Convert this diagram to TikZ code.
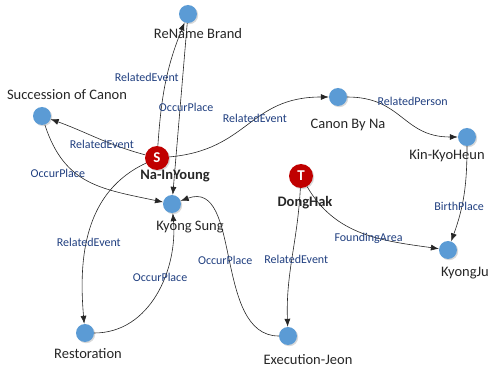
\documentclass[tikz,border=0pt]{standalone}
\usepackage{fontspec}
\setmainfont{Carlito}
\usetikzlibrary{arrows.meta, positioning, shadows}
\definecolor{nodeblue}{HTML}{5B9BD5}
\definecolor{nodered}{HTML}{C00000}
\definecolor{relblue}{HTML}{203F80}
\tikzset{
    base/.style = {
        circle, inner sep=0pt,
        drop shadow={opacity=0.3, shadow xshift=1.2pt, shadow yshift=-1.2pt}
    },
    % Resources
    place/.style = {base, fill=nodeblue, minimum size=18pt},
    agent/.style = {base, fill=nodered, minimum size=24pt, text=white, font=\fontsize{15}{15}\selectfont\bfseries},
    % Texts
    tag/.style      = {font=\fontsize{14.5}{16}\selectfont, text=black!85, inner sep=1pt},
    agenttag/.style = {tag, font=\fontsize{14.5}{16}\selectfont\bfseries},
    rel/.style      = {font=\fontsize{12}{13}\selectfont, text=relblue, inner sep=1pt},
    % Edges
    arrow/.style = {draw=black!85, line width=0.6pt, -{Latex[length=8pt, width=6pt]}}
}

\begin{document}
\begin{tikzpicture}[x=1pt, y=1pt]
    \path[use as bounding box] (0,0) rectangle (491,-369);

    % Persons (red)
    \node (nainyoung) [agent, label={[agenttag, xshift=18pt, yshift=1pt]below:Na-InYoung}] at (157,-158) {S};
    \node (donghak) [agent, label={[agenttag, xshift=4pt, yshift=-7pt]below:DongHak}] at (301,-176) {T};

    % Resources (blue)
    \node (rename) [place, label={[tag, xshift=10pt, yshift=-4pt]below:ReName Brand}] at (188,-14) {};
    \node (succession) [place, label={[tag, xshift=25pt, yshift=6pt]above:Succession of Canon}] at (42,-116) {};
    \node (canonbyna) [place, label={[tag, xshift=10pt, yshift=-12pt]below:Canon By Na}] at (338,-97) {};
    \node (kinkyoheun) [place, label={[tag, xshift=-20pt, yshift=-2pt]below:Kin-KyoHeun}] at (467,-137) {};
    \node (kyongsung) [place, label={[tag, xshift=18pt, yshift=-7pt]below:Kyong Sung}] at (172,-204) {};
    \node (kyongju) [place, label={[tag, xshift=17pt, yshift=-7pt]below:KyongJu}] at (448,-250) {};
    \node (restoration) [place, label={[tag, xshift=3pt, yshift=-5pt]below:Restoration}] at (85,-333) {};
    \node (execution) [place, label={[tag, xshift=20pt, yshift=-8pt]below:Execution-Jeon}] at (288,-336) {};

    % --- Connections ---

    % From Na-InYoung
    \draw [arrow] (nainyoung) to[out=86, in=-112] node[rel, pos=0.55, xshift=-20pt] {RelatedEvent} (rename);
    \draw [arrow] (nainyoung) to[out=165, in=-20] node[rel, pos=0.45, yshift=-4pt] {RelatedEvent} (succession);
    \draw [arrow] (nainyoung) to[out=5, in=180, looseness=1.2] node[rel, pos=0.55, yshift=2pt] {RelatedEvent} (canonbyna);
    \draw [arrow] (nainyoung) to[out=205, in=95] node[rel, pos=0.6, xshift=3pt, yshift=4pt] {RelatedEvent} (restoration);

    % Places
    \draw [arrow] (rename) -- node[rel, pos=0.49, xshift=6pt] {OccurPlace} (kyongsung);
    \draw [arrow] (succession) to[out=-72, in=168, looseness=1.15] node[rel, pos=0.25, xshift=-5pt, yshift=-13pt] {OccurPlace} (kyongsung);
    \draw [arrow] (restoration) to[out=0, in=-85] node[rel, pos=0.55, yshift=10pt] {OccurPlace} (kyongsung);
    \draw [arrow] (execution) to[out=180, in=20] node[rel, pos=0.5, xshift=-3pt] {OccurPlace} (kyongsung);

    % Canon By Na chain
    \draw [arrow] (canonbyna) to[out=0, in=180, looseness=1.2] node[rel, pos=0.35, xshift=23pt, yshift=7pt] {RelatedPerson} (kinkyoheun);
    \draw [arrow] (kinkyoheun) to[out=-90, in=70] node[rel, pos=0.55, xshift=-4pt, yshift=-7pt] {BirthPlace} (kyongju);

    % From DongHak
    \draw [arrow] (donghak) to[out=-93, in=92] node[rel, pos=0.5, xshift=4pt, yshift=-2pt] {RelatedEvent} (execution);
    \draw [arrow] (donghak) to[out=-60, in=172] node[rel, pos=0.5, xshift=6pt, yshift=-5pt] {FoundingArea} (kyongju);

\end{tikzpicture}
\end{document}
